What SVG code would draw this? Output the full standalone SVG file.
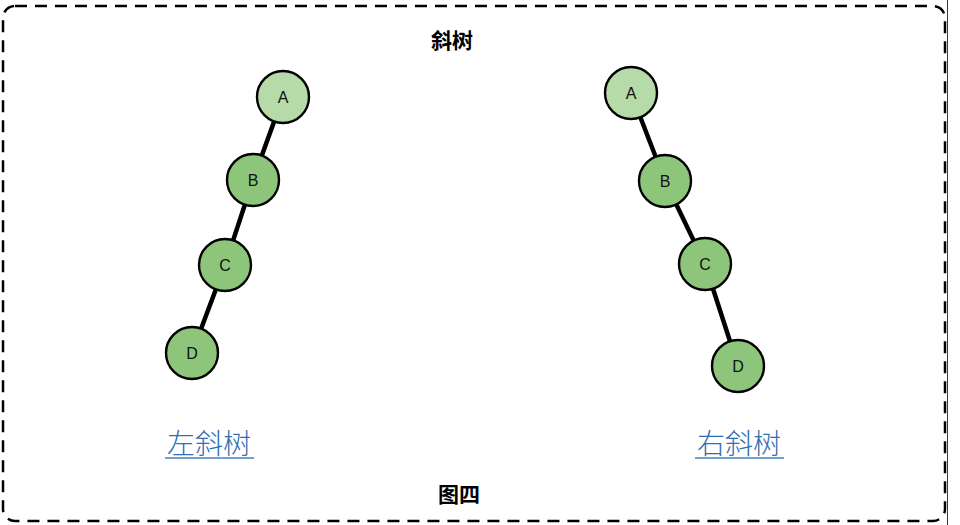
<svg xmlns="http://www.w3.org/2000/svg" width="960" height="525" viewBox="0 0 960 525">
<style>
.frame{fill:none;stroke:#000;stroke-width:2.5;stroke-dasharray:12 8}
.edge{stroke:#000;stroke-width:4.5;stroke-linecap:round}
.n{stroke:#000;stroke-width:2.4}
.root{fill:#b6daa8}
.inner{fill:#8dc67b}
.lt{font-family:"Liberation Sans",Arial,sans-serif;font-size:16px;fill:#111;text-anchor:middle;dominant-baseline:central}
.ttl{font-family:"Noto Sans CJK SC","Noto Sans",sans-serif;font-weight:bold;font-size:21px;fill:#000;text-anchor:middle}
.cap{font-family:"Noto Sans CJK SC","Noto Sans",sans-serif;font-weight:300;font-size:28px;fill:#2f6fb3;text-anchor:middle}
.ul{stroke:#4a82bd;stroke-width:1.5}
</style>
<rect class="frame" x="3" y="6" width="942" height="515" rx="12" ry="12"/>
<line x1="947.5" y1="0" x2="947.5" y2="525" stroke="#2b3a55" stroke-width="1"/>
<text class="ttl" x="452" y="48">斜树</text>
<text class="ttl" x="459" y="502">图四</text>
<g id="connectors">
<line class="edge" x1="283" y1="97" x2="253" y2="180"/>
<line class="edge" x1="253" y1="180" x2="225" y2="265"/>
<line class="edge" x1="225" y1="265" x2="192" y2="353"/>
<line class="edge" x1="631" y1="93" x2="665" y2="181"/>
<line class="edge" x1="665" y1="181" x2="705" y2="264"/>
<line class="edge" x1="705" y1="264" x2="738" y2="366"/>
</g>
<g id="L-A"><circle class="n root" cx="283" cy="97" r="26"/><text class="lt" x="283" y="97">A</text></g>
<g id="L-B"><circle class="n inner" cx="253" cy="180" r="26"/><text class="lt" x="253" y="180">B</text></g>
<g id="L-C"><circle class="n inner" cx="225" cy="265" r="26"/><text class="lt" x="225" y="265">C</text></g>
<g id="L-D"><circle class="n inner" cx="192" cy="353" r="26"/><text class="lt" x="192" y="353">D</text></g>
<g id="R-A"><circle class="n root" cx="631" cy="93" r="26"/><text class="lt" x="631" y="93">A</text></g>
<g id="R-B"><circle class="n inner" cx="665" cy="181" r="26"/><text class="lt" x="665" y="181">B</text></g>
<g id="R-C"><circle class="n inner" cx="705" cy="264" r="26"/><text class="lt" x="705" y="264">C</text></g>
<g id="R-D"><circle class="n inner" cx="738" cy="366" r="26"/><text class="lt" x="738" y="366">D</text></g>
<g id="cap-left"><text class="cap" x="209" y="454">左斜树</text><line class="ul" x1="165" y1="458" x2="254" y2="458"/></g>
<g id="cap-right"><text class="cap" x="739" y="454">右斜树</text><line class="ul" x1="695" y1="458" x2="784" y2="458"/></g>
</svg>
